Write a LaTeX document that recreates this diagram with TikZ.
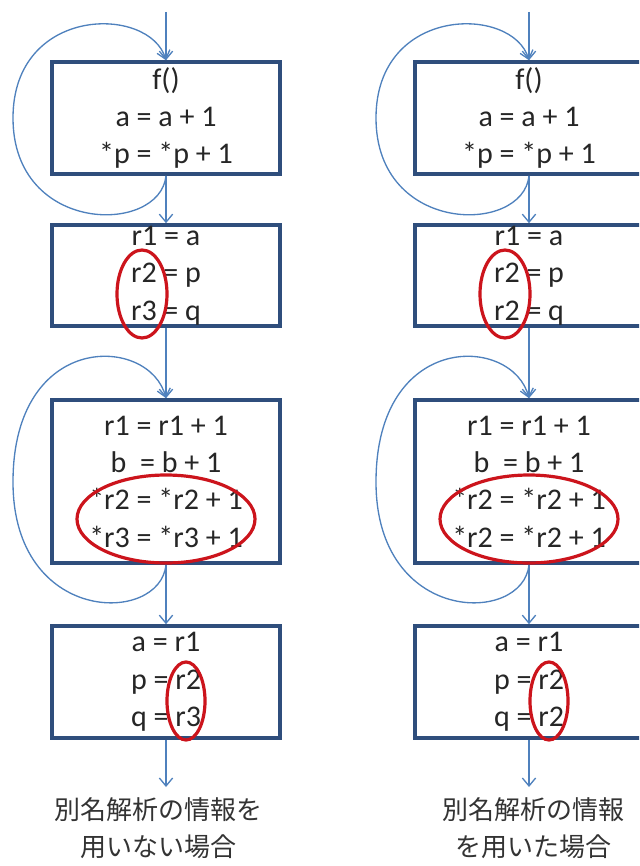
\documentclass[tikz,border=0pt]{standalone}
\usepackage{fontspec}
\setmainfont{Carlito}
\newfontfamily\cjk{Noto Sans CJK JP}
\usetikzlibrary{arrows.meta,shapes.geometric}
\definecolor{boxblue}{RGB}{47,78,124}
\definecolor{flowblue}{RGB}{79,129,189}
\definecolor{markred}{RGB}{204,20,28}

\begin{document}
\begin{tikzpicture}[x=0.75pt, y=-0.75pt, >={Straight Barb[length=6pt,width=10pt]},
  blk/.style={draw=boxblue, line width=2.7pt, fill=white, minimum width=171pt, inner sep=0pt,
    align=center, text=black!85, font=\fontsize{22.5}{28}\selectfont},
  flow/.style={->, draw=flowblue, line width=1pt},
  redring/.style={ellipse, draw=markred, line width=2.4pt, inner sep=0pt},
  caption/.style={align=center, text=black!80, font=\cjk\fontsize{19.5}{28}\selectfont}]
  \useasboundingbox (0,0) rectangle (639,866);
  \clip (0,0) rectangle (639,866);

  \node[blk, minimum height=84pt] (la) at (166,118) {f()\\a = a + 1\\*p = *p + 1};
  \node[blk, minimum height=75.75pt] (lb) at (166,275.5) {r1 = a\\r2 = p\\r3 = q};
  \node[blk, minimum height=122.25pt] (lc) at (166,481.5) {r1 = r1 + 1\\b~ = b + 1\\*r2 = *r2 + 1\\*r3 = *r3 + 1};
  \node[blk, minimum height=84pt] (ld) at (166,682) {a = r1\\p = r2\\q = r3};
  \coordinate (lin) at (166,12);
  \coordinate (lout) at (166,787);
  \draw[flow] (lin) -- (la);
  \draw[flow] (la) -- (lb);
  \draw[flow] (lb) -- (lc);
  \draw[flow] (lc) -- (ld);
  \draw[flow] (ld) -- (lout);
  \draw[flow] (la.south) .. controls (160,235) and (13,235) .. (13,118) .. controls (13,5) and (150,5) .. (la.north);
  \draw[flow] (lc.south) .. controls (160,625) and (13,625) .. (13,482) .. controls (13,330) and (150,335) .. (lc.north);
  \node[redring, minimum width=37.5pt, minimum height=66pt] (lr2) at (142,294) {};
  \node[redring, minimum width=133.5pt, minimum height=66pt] (lr3) at (166,519) {};
  \node[redring, minimum width=28.5pt, minimum height=58.5pt] (lr4) at (186,701) {};
  \node[caption] (lcap) at (158,828) {別名解析の情報を\\用いない場合};

  \node[blk, minimum height=84pt] (ra) at (529,118) {f()\\a = a + 1\\*p = *p + 1};
  \node[blk, minimum height=75.75pt] (rb) at (529,275.5) {r1 = a\\r2 = p\\r2 = q};
  \node[blk, minimum height=122.25pt] (rc) at (529,481.5) {r1 = r1 + 1\\b~ = b + 1\\*r2 = *r2 + 1\\*r2 = *r2 + 1};
  \node[blk, minimum height=84pt] (rd) at (529,682) {a = r1\\p = r2\\q = r2};
  \coordinate (rin) at (529,12);
  \coordinate (rout) at (529,787);
  \draw[flow] (rin) -- (ra);
  \draw[flow] (ra) -- (rb);
  \draw[flow] (rb) -- (rc);
  \draw[flow] (rc) -- (rd);
  \draw[flow] (rd) -- (rout);
  \draw[flow] (ra.south) .. controls (523,235) and (376,235) .. (376,118) .. controls (376,5) and (513,5) .. (ra.north);
  \draw[flow] (rc.south) .. controls (523,625) and (376,625) .. (376,482) .. controls (376,330) and (513,335) .. (rc.north);
  \node[redring, minimum width=37.5pt, minimum height=66pt] (rr2) at (505,294) {};
  \node[redring, minimum width=133.5pt, minimum height=66pt] (rr3) at (529,519) {};
  \node[redring, minimum width=28.5pt, minimum height=58.5pt] (rr4) at (549,701) {};
  \node[caption] (rcap) at (533,828) {別名解析の情報\\を用いた場合};
\end{tikzpicture}
\end{document}
